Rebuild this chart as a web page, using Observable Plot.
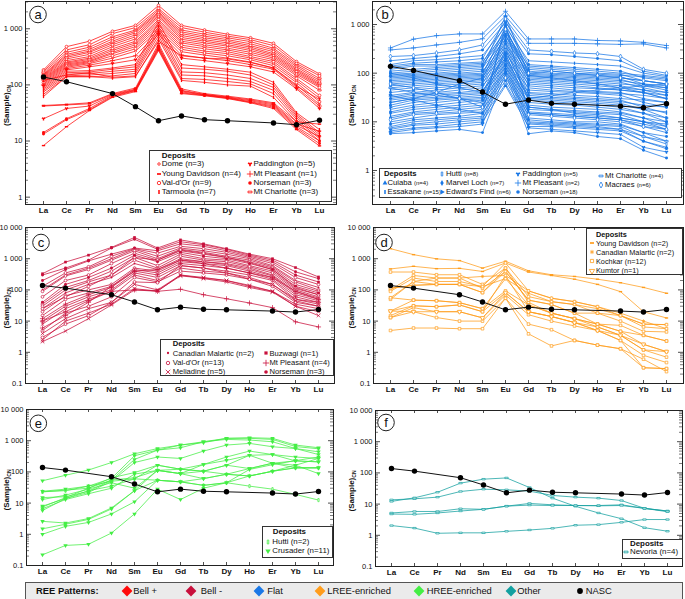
<!DOCTYPE html>
<html><head><meta charset="utf-8">
<script src="https://cdn.jsdelivr.net/npm/d3@7"></script>
<script src="https://cdn.jsdelivr.net/npm/@observablehq/plot@0.6"></script>
<style>
body{margin:0;background:#fff;font-family:"Liberation Sans",Arial,Helvetica,sans-serif;}
#wrap{position:relative;width:685px;height:599px;overflow:hidden;background:#fff;}
.pl{position:absolute;}
.leg{position:absolute;background:#fff;border:1px solid #333;box-sizing:border-box;}
.it{position:absolute;white-space:nowrap;line-height:1;color:#111;}
.gl{position:absolute;overflow:visible;}
</style></head><body><div id="wrap"></div>
<script>
const REE = ["La","Ce","Pr","Nd","Sm","Eu","Gd","Tb","Dy","Ho","Er","Yb","Lu"];
const NASC = [138,114,null,70,41,23,28,24,23,null,21,19.5,23.5];

// Panel a — Bell +
const aVals = [
[185,480,600,900,1150,2600,1150,950,800,690,550,260,157],
[175,420,520,820,1050,2300,1050,870,740,640,500,240,145],
[165,380,470,720,950,2150,950,800,690,590,450,225,130],
[155,350,430,660,900,2000,880,740,640,540,420,210,120],
[150,330,400,600,850,1900,820,690,600,500,390,195,112],
[145,310,380,560,780,1800,760,640,560,470,360,185,105],
[140,290,350,520,720,1700,700,600,520,440,340,175,100],
[135,270,320,480,660,1600,650,560,490,410,320,165,95],
[130,255,300,440,600,1450,600,520,450,380,300,155,90],
[125,245,285,410,560,1350,560,480,420,350,280,145,80],
[120,235,270,380,520,1250,510,440,390,320,260,130,65],
[115,225,260,360,480,1150,470,400,360,300,240,120,58],
[110,215,250,330,440,1050,430,370,330,280,220,110,50],
[105,205,240,300,400,950,390,340,300,255,200,100,45],
[100,195,225,270,330,880,340,300,270,230,190,90,42],
[95,185,210,240,280,800,300,270,240,210,170,85,38],
[90,175,180,200,230,1300,230,210,190,168,111,32,16],
[85,165,170,190,210,1100,200,190,175,150,100,30,14],
[80,155,160,175,190,950,170,165,150,130,90,28,13],
[75,145,150,160,175,850,150,145,130,115,80,26,12],
[68,140,140,145,160,750,130,125,115,104,70,24,11],
[62,140,140,132,140,660,120,111,100,95,60,22,10],
[120,150,165,137,145,600,330,300,290,250,200,95,55],
[43,45,48,70,88,540,85,70,63,56,48,22,20],
[42,44,46,68,84,500,80,68,61,54,46,20,15],
[25,38,42,66,82,470,78,67,60,52,44,19,12],
[14.2,25,38,64,80,450,75,66,59,50,42,18,10],
[13.3,24,36,62,79,430,72,65,58,49,40,17,9],
[8.3,18,35,60,76,410,70,64,57,48,38,16,8.2]
];
const aDep = ["Val-d'Or","Val-d'Or","Mt Charlotte","Val-d'Or","Val-d'Or","Mt Charlotte","Val-d'Or","Dome","Val-d'Or","Mt Charlotte","Val-d'Or","Dome","Val-d'Or","Dome","Mt Pleasant","Paddington","Tarmoola","Tarmoola","Tarmoola","Tarmoola","Tarmoola","Tarmoola","Tarmoola","Young Davidson","Young Davidson","Paddington","Norseman","Norseman","Young Davidson"];

// Panel b — Flat
const bVals = [
[330,500,590,640,640,1870,505,505,505,470,460,430,370],
[300,330,380,430,510,1500,410,410,410,400,390,400,330],
[220,230,260,300,380,1300,300,280,260,250,220,120,100],
[180,200,220,250,300,1100,250,240,220,200,180,110,90],
[150,180,190,210,230,900,180,170,160,150,140,100,85],
[140,160,170,180,200,1200,150,140,130,120,110,80,70],
[130,150,150,160,170,700,140,130,120,110,100,90,80],
[120,140,140,150,160,1000,130,120,110,100,95,70,60],
[110,120,130,140,150,600,120,110,100,95,90,85,75],
[100,110,120,130,140,800,110,100,95,90,85,60,50],
[95,100,110,120,130,500,100,95,90,85,80,70,60],
[90,95,100,110,120,1500,95,90,85,80,75,55,45],
[85,90,95,100,110,400,90,85,80,75,70,60,55],
[80,85,90,95,100,700,85,80,75,70,65,50,40],
[75,80,85,90,95,350,80,75,70,65,60,55,50],
[70,75,80,85,90,900,75,70,65,60,55,45,35],
[65,70,75,80,85,300,70,65,60,55,50,45,40],
[60,65,70,75,80,600,65,60,55,50,45,40,30],
[55,60,65,70,75,250,60,55,50,48,45,40,35],
[50,55,60,65,70,500,55,50,45,42,40,30,25],
[45,50,55,60,65,200,50,45,42,40,38,35,30],
[40,45,50,55,60,450,45,42,40,38,35,25,20],
[35,40,45,50,55,180,40,38,35,33,30,28,25],
[32,38,40,45,50,400,38,35,32,30,28,20,15],
[30,35,38,40,45,150,35,32,30,28,26,22,20],
[28,32,35,38,40,350,32,30,28,26,24,18,12],
[25,30,32,35,38,130,30,28,26,24,22,18,16],
[22,28,30,32,35,300,28,26,24,22,20,15,10],
[20,25,28,30,32,110,25,23,22,20,18,15,12],
[18,22,25,28,30,250,22,20,19,18,16,12,8],
[16,20,22,25,28,100,20,18,17,16,15,12,10],
[15,18,20,22,25,220,18,17,16,15,14,10,7],
[13,16,18,20,22,90,16,15,14,13,12,10,8],
[12,15,16,18,20,200,15,14,13,12,11,8,6],
[11,14,15,16,18,80,14,13,12,11,10,8,7],
[10,12,14,15,16,180,12,11,10,10,9,6,4],
[9,11,12,13,15,70,11,10,9.5,9,8.5,6,5],
[8,10,11,12,13,160,10,9.5,9,8.5,8,5,3.5],
[7.5,9,10,11,12,60,9.5,9,8.5,8,7,5,4],
[7,8.5,9,10,11,140,9,8.5,8,7.5,7,4,2.8],
[6.5,7.5,8,9,10,55,8,8,7.5,7,6.5,4,3],
[6,7,7.5,8,9,120,7.5,7,6.5,6,5.5,3,2.4],
[5.7,6,6.5,7,6,100,5.7,6.5,6,5,4.5,2.6,1.8],
[50,40,35,30,25,300,30,35,40,45,50,55,60],
[25,30,40,60,80,600,90,80,70,60,50,40,30],
[100,80,60,50,40,250,20,18,15,14,12,10,9],
[60,50,40,30,20,800,100,110,100,90,80,70,60],
[35,28,22,18,15,1000,15,14,13,12,11,9,7]
];
const bDep = ["Mt Pleasant","Mt Pleasant","Macraes","Norseman","Essakane","Norseman","Hutti","Essakane","Marvel Loch","Norseman","Essakane","Cuiaba","Norseman","Essakane","Hutti","Norseman","Edward's Find","Essakane","Norseman","Marvel Loch","Essakane","Norseman","Paddington","Essakane","Norseman","Hutti","Essakane","Norseman","Edward's Find","Essakane","Norseman","Marvel Loch","Essakane","Norseman","Macraes","Essakane","Norseman","Hutti","Mt Charlotte","Norseman","Cuiaba","Paddington","Norseman","Mt Charlotte","Marvel Loch","Edward's Find","Macraes","Cuiaba"];

// Panel c — Bell -
const cVals = [
[330,780,1300,2300,4800,2200,4000,3000,2100,1400,1000,520,260],
[300,500,900,2200,4200,2000,3500,2800,2000,1300,900,380,230],
[200,450,850,1400,2200,1800,3000,2500,1800,1200,800,300,180],
[130,350,550,1200,2100,1500,2500,2100,1600,1100,700,250,150],
[100,300,500,1000,2000,1200,2200,1800,1400,1000,600,200,120],
[90,280,450,900,1800,1000,2000,1600,1200,900,550,180,100],
[60,200,300,700,1500,900,1800,1400,1100,800,500,150,90],
[40,150,250,500,1300,800,1600,1200,1000,700,450,130,80],
[35,120,200,400,1100,600,1400,1000,900,600,400,110,70],
[30,100,180,300,900,500,1200,900,800,550,350,100,60],
[25,80,150,250,700,450,1000,800,700,500,300,90,55],
[20,65,100,150,500,400,900,800,650,450,280,80,50],
[15,50,80,130,450,350,800,700,600,400,250,70,45],
[12,35,70,120,400,300,700,600,500,350,220,60,40],
[10,30,60,100,350,250,600,500,400,300,200,50,35],
[8,25,50,90,300,200,500,400,350,250,150,45,30],
[5,18,30,60,250,180,400,350,300,220,130,40,30],
[4,12,25,40,150,100,300,250,200,130,90,35,25],
[2.5,10,18,35,110,90,300,230,180,120,85,30,20],
[10,20,45,90,100,90,105,70,52,38,27,9.5,6.5],
[2.2,4.8,12,33,100,95,280,240,200,140,90,30,15],
[3,8,15,40,180,170,600,500,350,220,150,50,40],
[6,15,40,130,400,450,900,700,500,350,250,90,50],
[25,60,130,300,1100,900,1900,1500,1100,750,450,120,70]
];
const cDep = ["Buzwagi","Norseman","Norseman","Val-d'Or","Canadian Malartic","Val-d'Or","Val-d'Or","Norseman","Val-d'Or","Val-d'Or","Canadian Malartic","Val-d'Or","Val-d'Or","Mt Pleasant","Val-d'Or","Meliadine","Val-d'Or","Meliadine","Meliadine","Mt Pleasant","Meliadine","Val-d'Or","Mt Pleasant","Val-d'Or"];

// Panel d — LREE-enriched
const dVals = [
[2100,1350,990,870,500,830,410,306,270,220,170,120,78],
[470,570,480,490,390,730,374,290,220,150,88,20,12.6],
[56,186,240,240,270,290,93,54,42,29,18,10,5.7],
[113,140,150,150,128,230,78,42,34,25,15,8,7.7],
[374,374,306,306,150,500,61,42,34,18,15,6.5,5.7],
[100,290,240,240,113,390,47,34,18,18,10,4.7,4.5],
[90,240,186,186,128,730,93,54,42,29,15,8,7.7],
[50,186,150,150,82,500,40,18,12,8,7.3,3.5,2.3],
[21,47,45,39,25,93,33,18,12,8,4.7,1.8,1.05],
[15,31,29,33,20,82,20,14,9,6.5,3.5,1.2,0.7],
[13,27,20,20,12.7,69,16,10,7,5,2.4,0.8,0.47],
[13,20,13,10,10,54,8,5.3,2.4,1.7,1.3,0.32,0.3],
[5,6,6,5.7,5.7,54,3.9,1.6,2.4,1.7,1.3,0.6,0.24],
[113,140,150,150,82,390,47,34,18,8,4.7,3.5,2.3],
[56,47,45,39,25,230,33,18,12,6.5,3.5,1.2,1.05],
[21,31,29,33,20,290,20,14,9,5,2.4,0.32,0.3],
[21,20,20,20,12.7,82,20,14,9,5,3.5,1.8,1.05]
];
const dDep = ["Young Davidson","Young Davidson","Canadian Malartic","Canadian Malartic","Kochkar","Kochkar","Kochkar","Kochkar","Kochkar","Kochkar","Kochkar","Kochkar","Kochkar","Kochkar","Kochkar","Kochkar","Kumtor"];

// Panel e — HREE-enriched
const eVals = [
[52,78,115,200,380,560,725,925,1190,1250,1190,725,595],
[24,28,35,62,330,500,595,925,1100,1050,925,560,440],
[15,16,24,55,250,500,725,870,1190,1190,1100,650,550],
[8,14,22,50,200,300,270,465,725,820,640,560,360],
[7.5,15,30,65,95,164,122,173,300,465,360,300,270],
[6.6,13,20,30,85,112,88,173,234,340,360,225,210],
[5.8,14,25,35,60,164,122,105,164,340,190,164,270],
[13,18,28,45,30,112,88,105,164,128,190,225,210],
[2.6,2.3,3.2,7,25,112,88,61,84,128,190,135,135],
[1.5,2.1,3,6.5,25,54,48,61,84,74,105,164,88],
[1.0,1.8,2.4,4.5,11,54,48,37,45,74,105,135,135],
[0.22,0.44,0.48,1.1,4.5,28,13,30,45,120,170,230,300],
[23,25,35,50,60,54,48,37,45,35,28,19,12.5],
[23,26,30,55,65,112,122,105,84,74,105,135,135]
];
const eDep = ["Crusader","Crusader","Crusader","Crusader","Crusader","Crusader","Crusader","Crusader","Crusader","Crusader","Crusader","Crusader","Hutti","Hutti"];

// Panel f — Other
const fVals = [
[12.2,15.9,24,47,63,69,34,15.5,8.5,5.2,3.4,1.75,1.35],
[13.7,14.8,16.7,25.4,30,28.7,26,18.9,16.7,15.5,13,7.3,6],
[5.2,5.8,5.8,7.1,6.8,8.6,10.5,9.5,9,9,9.5,7.3,6],
[4.8,4.7,5.2,6,6.8,8.6,9.3,9,9,8.8,9,7.3,5.7],
[2.05,1.7,1.16,1.2,1.2,1.34,1.48,1.67,2.1,2.2,2.6,3.2,3.2]
];
const fDep = ["Nevoria","Nevoria","Nevoria","Nevoria","Nevoria"];

const patternNames = ["Bell +","Bell -","Flat","LREE-enriched","HREE-enriched","Other"];
const patternColors = ["#ff0a0a","#c8103c","#1a78e6","#ff9d1c","#44ee44","#12a0a0"];

// ---------- marker shapes ----------
const vbar = {draw(c, s){ const q=Math.sqrt(s); const w=q*0.45, h=q*1.15; c.rect(-w/2,-h/2,w,h); }};
const hbar = {draw(c, s){ const q=Math.sqrt(s); const w=q*1.2, h=q*0.5; c.rect(-w/2,-h/2,w,h); }};
const S = {
  circleF:{sym:d3.symbolCircle,t:"fill",r:1.9},
  circleO:{sym:d3.symbolCircle,t:"hollow",r:1.8},
  circleS:{sym:d3.symbolCircle,t:"hollow",r:1.3},
  dotS:{sym:d3.symbolCircle,t:"fill",r:1.2},
  squareF:{sym:d3.symbolSquare,t:"fill",r:1.9},
  squareO:{sym:d3.symbolSquare,t:"hollow",r:1.9},
  plus:{sym:d3.symbolPlus,t:"line",r:2.3},
  times:{sym:d3.symbolTimes,t:"line",r:2.3},
  aster:{sym:d3.symbolAsterisk,t:"line",r:2.1},
  wye:{sym:d3.symbolWye,t:"fill",r:1.9},
  triF:{sym:d3.symbolTriangle,t:"fill",r:1.9},
  triDF:{sym:d3.symbolTriangle,t:"fill",r:2.1,rot:180},
  triDO:{sym:d3.symbolTriangle,t:"hollow",r:2.1,rot:180},
  triR:{sym:d3.symbolTriangle,t:"fill",r:1.9,rot:90},
  diaF:{sym:d3.symbolDiamond,t:"fill",r:1.9},
  diaO:{sym:d3.symbolDiamond,t:"hollow",r:1.9},
  vbarF:{sym:vbar,t:"fill",r:2},
  vbarO:{sym:vbar,t:"hollow",r:2},
  hbarF:{sym:hbar,t:"fill",r:2},
  hbarO:{sym:hbar,t:"hollow",r:2}
};
const MSCALE = 0.78;

const fmtY = d => d >= 1000 ? String(d).replace(/\B(?=(\d{3})+(?!\d))/g, " ") : String(d);
const nascRows = NASC.map((v,j)=>({el:REE[j], v})).filter(d=>d.v!=null);
function rowsOf(vals, deps){
  const rows=[];
  vals.forEach((arr,i)=>arr.forEach((y,j)=>{ if(y!=null) rows.push({id:i, el:REE[j], v:y, dep:deps[i]}); }));
  return rows;
}
const wrap = document.getElementById("wrap");

function panel(cfg){
  const fw = cfg.width-cfg.ml-cfg.mr, fh = cfg.height-cfg.mt-cfg.mb;
  const rows = rowsOf(cfg.vals, cfg.deps);
  const [lo,hi] = cfg.domain;
  const majors=[], minors=[];
  for(let e=-2;e<=4;e++) for(let m=1;m<=9;m++){ const v=+(m*Math.pow(10,e)).toPrecision(3); if(v>=lo*0.999 && v<=hi*1.001) (m===1?majors:minors).push(v); }
  const col = cfg.color;
  const dotMarks = Object.keys(cfg.mk).map(dep=>{
    const m = cfg.mk[dep];
    return Plot.dot(rows.filter(d=>d.dep===dep), {x:"el", y:"v", symbol:m.sym, r:m.r*MSCALE,
      fill: m.t==="fill"?col:(m.t==="hollow"?"white":"none"),
      stroke: m.t==="fill"?"none":col, strokeWidth:0.7, rotate:m.rot||0});
  });
  const tk = "#222";
  const svg = Plot.plot({
    width:cfg.width, height:cfg.height,
    marginLeft:cfg.ml, marginRight:cfg.mr, marginTop:cfg.mt, marginBottom:cfg.mb,
    x:{type:"point", domain:REE, padding:cfg.pad, label:null},
    y:{type:"log", domain:cfg.domain, label:null},
    style:{fontFamily:"'Liberation Sans',Arial,sans-serif", fontSize:"8px", color:"#111", background:"transparent", overflow:"visible"},
    marks:[
      Plot.line(rows, {x:"el", y:"v", z:"id", stroke:col, strokeWidth:0.8, strokeOpacity:0.95}),
      ...dotMarks,
      Plot.line(nascRows, {x:"el", y:"v", stroke:"#111", strokeWidth:1}),
      Plot.dot(nascRows, {x:"el", y:"v", r:2.7, fill:"#000"}),
      Plot.ruleY(majors, {y:d=>d, insetRight:fw-5, stroke:tk, strokeWidth:0.8}),
      Plot.ruleY(majors, {y:d=>d, insetLeft:fw-5, stroke:tk, strokeWidth:0.8}),
      Plot.ruleY(minors, {y:d=>d, insetRight:fw-3, stroke:tk, strokeWidth:0.6}),
      Plot.ruleY(minors, {y:d=>d, insetLeft:fw-3, stroke:tk, strokeWidth:0.6}),
      Plot.tickX(REE, {x:d=>d, insetBottom:fh-3, stroke:tk, strokeWidth:0.8}),
      Plot.tickX(REE, {x:d=>d, insetTop:fh-3, stroke:tk, strokeWidth:0.8}),
      Plot.frame({stroke:"#222", strokeWidth:1}),
      Plot.axisY(majors, {tickSize:0, tickPadding:3, tickFormat:fmtY, fontSize:7.5, label:null}),
      Plot.axisX({tickSize:0, tickPadding:3, fontWeight:"bold", fontSize:8, label:null})
    ]
  });
  svg.classList.add("pl");
  svg.style.left = cfg.left+"px"; svg.style.top = cfg.top+"px";
  const s = d3.select(svg);
  const t = s.append("text").attr("transform",`translate(${cfg.ytx},${cfg.mt+fh/2+3}) rotate(-90)`)
    .attr("text-anchor","middle").attr("font-weight","bold").attr("font-size",8).attr("fill","#111").attr("dy","0.35em");
  t.append("tspan").text("(Sample)");
  t.append("tspan").attr("font-size",5).attr("dy",2).text("CN");
  const cx = cfg.letterPos[0]-cfg.left, cy = cfg.letterPos[1]-cfg.top;
  s.append("circle").attr("cx",cx).attr("cy",cy).attr("r",8.3).attr("fill","white").attr("stroke","#222").attr("stroke-width",1);
  s.append("text").attr("x",cx).attr("y",cy).attr("dy","0.36em").attr("text-anchor","middle").attr("font-size",13).attr("fill","#111").text(cfg.letter);
  wrap.appendChild(svg);
}

function glyphHTML(m, color, x, y){
  const r = m.r*0.95;
  const p = d3.symbol(m.sym, Math.PI*r*r)();
  const fill = m.t==="fill"?color:(m.t==="hollow"?"white":"none");
  const stroke = m.t==="fill"?"none":color;
  return `<svg class="gl" width="10" height="10" style="left:${x-5}px;top:${y-5}px"><path d="${p}" transform="translate(5,5) rotate(${m.rot||0})" fill="${fill}" stroke="${stroke}" stroke-width="0.8"/></svg>`;
}
function legend(cfg, L){
  let h = `<div class="leg" style="left:${L.box[0]}px;top:${L.box[1]}px;width:${L.box[2]}px;height:${L.box[3]}px"></div>`;
  h += `<div class="it" style="left:${L.title[0]}px;top:${L.title[1]-L.fs*0.49}px;font-size:${L.fs}px;font-weight:bold">Deposits</div>`;
  for(const [mx,y,dep,n,tx] of L.items){
    h += glyphHTML(cfg.mk[dep], cfg.color, mx, y);
    h += `<div class="it" style="left:${tx}px;top:${y-L.fs*0.49}px;font-size:${L.fs}px">${dep} <span style="font-size:${L.nfs||L.fs}px">${n}</span></div>`;
  }
  wrap.insertAdjacentHTML("beforeend", h);
}

const cfgA = {vals:aVals, deps:aDep, color:patternColors[0], left:0, top:0, width:340, height:218, ml:25, mr:4, mt:1, mb:14, domain:[0.74,3060], pad:0.55, ytx:6.5, letter:"a", letterPos:[38,14.5],
  mk:{"Dome":S.circleS,"Young Davidson":S.hbarF,"Val-d'Or":S.circleO,"Tarmoola":S.vbarF,"Paddington":S.wye,"Mt Pleasant":S.plus,"Norseman":S.circleF,"Mt Charlotte":S.hbarO}};
const cfgB = {vals:bVals, deps:bDep, color:patternColors[2], left:340, top:0, width:345, height:218, ml:32, mr:2, mt:1, mb:14, domain:[0.2,2970], pad:0.62, ytx:11.5, letter:"b", letterPos:[385,14.5],
  mk:{"Cuiaba":S.triF,"Essakane":S.vbarF,"Hutti":S.vbarO,"Marvel Loch":S.diaF,"Edward's Find":S.triR,"Paddington":S.wye,"Mt Pleasant":S.plus,"Norseman":S.circleF,"Mt Charlotte":S.hbarO,"Macraes":S.diaO}};
const cfgC = {vals:cVals, deps:cDep, color:patternColors[1], left:0, top:218, width:340, height:179, ml:25, mr:6, mt:9, mb:14, domain:[0.1,10000], pad:0.55, ytx:6.5, letter:"c", letterPos:[41,242.5],
  mk:{"Canadian Malartic":S.dotS,"Val-d'Or":S.circleO,"Meliadine":S.times,"Buzwagi":S.squareF,"Mt Pleasant":S.plus,"Norseman":S.circleF}};
const cfgD = {vals:dVals, deps:dDep, color:patternColors[3], left:340, top:218, width:345, height:179, ml:33, mr:2, mt:9, mb:14, domain:[0.1,10000], pad:0.62, ytx:11.5, letter:"d", letterPos:[384,242.5],
  mk:{"Young Davidson":S.hbarF,"Canadian Malartic":S.aster,"Kochkar":S.squareO,"Kumtor":S.triDO}};
const cfgE = {vals:eVals, deps:eDep, color:patternColors[4], left:0, top:397, width:340, height:182, ml:26, mr:7, mt:12, mb:14, domain:[0.1,10000], pad:0.52, ytx:6.5, letter:"e", letterPos:[38.3,423.3],
  mk:{"Hutti":S.vbarO,"Crusader":S.triDF}};
const cfgF = {vals:fVals, deps:fDep, color:patternColors[5], left:340, top:397, width:345, height:182, ml:35, mr:3, mt:13, mb:13, domain:[0.1,10000], pad:0.5, ytx:11.5, letter:"f", letterPos:[386,422.5],
  mk:{"Nevoria":S.hbarO}};

[cfgA,cfgB,cfgC,cfgD,cfgE,cfgF].forEach(panel);

legend(cfgA, {box:[149,150,183,52], title:[161.7,155.5], fs:8, items:[
  [158.5,164.3,"Dome","(n=3)",161.7],[158.5,173.5,"Young Davidson","(n=4)",161.7],[158.5,182.7,"Val-d'Or","(n=9)",161.7],[158.5,191.8,"Tarmoola","(n=7)",161.7],
  [249.5,164.3,"Paddington","(n=5)",253.5],[249.5,173.5,"Mt Pleasant","(n=1)",253.5],[249.5,182.7,"Norseman","(n=3)",253.5],[249.5,191.8,"Mt Charlotte","(n=3)",253.5]]});
legend(cfgB, {box:[379,168,303,30], title:[384,173.5], fs:7.7, nfs:6, items:[
  [384.5,182.7,"Cuiaba","(n=4)",387.5],[384.5,191.7,"Essakane","(n=15)",387.5],
  [442,173.5,"Hutti","(n=8)",446],[442,182.7,"Marvel Loch","(n=7)",446],[442,191.7,"Edward's Find","(n=6)",446],
  [518,173.5,"Paddington","(n=5)",522.5],[518,182.7,"Mt Pleasant","(n=2)",522.5],[518,191.7,"Norseman","(n=18)",522.5],
  [600.5,176,"Mt Charlotte","(n=4)",605],[600.5,184.5,"Macraes","(n=6)",605]]});
legend(cfgC, {box:[160,339.3,174,37], title:[172.7,344.2], fs:7.6, items:[
  [168.3,353.3,"Canadian Malartic","(n=2)",172.7],[168.3,362.7,"Val-d'Or","(n=13)",172.7],[168.3,371.7,"Meliadine","(n=5)",172.7],
  [265.5,353.3,"Buzwagi","(n=1)",269.5],[265.5,362.7,"Mt Pleasant","(n=4)",269.5],[265.5,371.7,"Norseman","(n=3)",269.5]]});
legend(cfgD, {box:[585.7,228.3,97.3,47], title:[596,234.3], fs:7.3, items:[
  [591.7,243.3,"Young Davidson","(n=2)",596],[591.7,252.3,"Canadian Malartic","(n=2)",596],[591.7,261.3,"Kochkar","(n=12)",596],[591.7,270.7,"Kumtor","(n=1)",596]]});
legend(cfgE, {box:[261.7,526,71,32], title:[272.7,532], fs:7.9, items:[
  [268.3,541.7,"Hutti","(n=2)",272.3],[268.3,551,"Crusader","(n=11)",272.3]]});
legend(cfgF, {box:[622.3,539,60.5,19.5], title:[630,543.5], fs:7.9, items:[
  [626,551.8,"Nevoria","(n=4)",630]]});

// bottom pattern legend
(function(){
  const fs = 9.4, y = 590.7;
  let h = `<div style="position:absolute;left:25px;top:581.5px;width:658px;height:20px;background:#ebebeb;border:1px solid #555;box-sizing:border-box"></div>`;
  h += `<div class="it" style="left:36px;top:${y-fs*0.49}px;font-size:${fs}px;font-weight:bold">REE Patterns:</div>`;
  const dx = [126.7,190.7,259.3,320,419,510.7], tx = [133.3,200.7,267.3,327.3,426.7,517.3];
  patternNames.forEach((n,i)=>{
    h += `<svg class="gl" width="12" height="12" style="left:${dx[i]-6}px;top:${y-6}px"><path d="M6,0.6L11.4,6L6,11.4L0.6,6Z" fill="${patternColors[i]}"/></svg>`;
    h += `<div class="it" style="left:${tx[i]}px;top:${y-fs*0.49}px;font-size:${fs}px">${n}</div>`;
  });
  h += `<svg class="gl" width="8" height="8" style="left:${580.3-4}px;top:${y-4}px"><circle cx="4" cy="4" r="2.9" fill="#000"/></svg>`;
  h += `<div class="it" style="left:585.7px;top:${y-fs*0.49}px;font-size:${fs}px">NASC</div>`;
  wrap.insertAdjacentHTML("beforeend", h);
})();
</script>
</body></html>
